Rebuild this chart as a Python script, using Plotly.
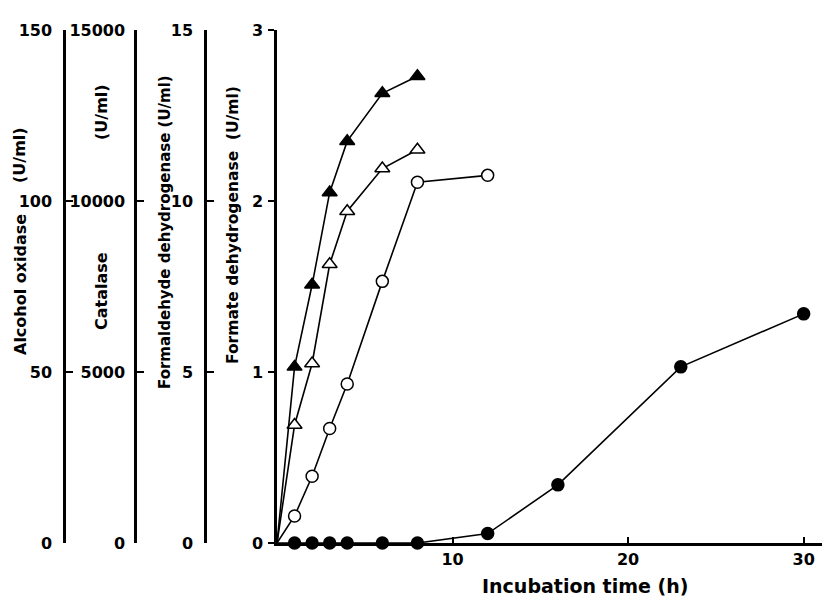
import plotly.graph_objects as go

# page body adds an 8 px offset, so the figure is sized to fill the rest of the window
OFF = 8
W, H = 830 - OFF, 599 - OFF

# Data (incubation time in h)
t_ao = [0, 1, 2, 3, 4, 6, 8]
alcohol_oxidase = [0, 51.5, 75.5, 102.5, 117.5, 131.5, 136.5]          # U/ml (filled triangles)

t_cat = [0, 1, 2, 3, 4, 6, 8]
catalase = [0, 3450, 5250, 8150, 9700, 10950, 11500]                     # U/ml (open triangles)

t_fald = [0, 1, 2, 3, 4, 6, 8, 12]
formaldehyde_dh = [0, 0.79, 1.95, 3.35, 4.65, 7.65, 10.55, 10.75]       # U/ml (open circles)

t_fdh = [0, 1, 2, 3, 4, 6, 8, 12, 16, 23, 30]
formate_dh = [0, 0, 0, 0, 0, 0, 0, 0.055, 0.34, 1.03, 1.34]              # U/ml (filled circles)

x_ticks = [10, 20, 30]
ao_ticks = [0, 50, 100, 150]
cat_ticks = [0, 5000, 10000, 15000]
fald_ticks = [0, 5, 10, 15]
fdh_ticks = [0, 1, 2, 3]

FONT = "DejaVu Sans"
tickfont = dict(family=FONT, size=16, color="black", weight="bold")

def px_x(p):
    return (p - OFF) / W

def px_y(p):
    return 1 - (p - OFF) / H

y_dom = [px_y(543), px_y(30)]

fig = go.Figure()

def msizes(n, s):
    return [0] + [s] * (n - 1)

fig.add_trace(go.Scatter(x=t_ao, y=alcohol_oxidase, yaxis="y4", mode="lines+markers",
                         line=dict(color="black", width=1.6),
                         marker=dict(symbol="triangle-up", size=msizes(len(t_ao), 13), color="#000000",
                                     opacity=1, line=dict(color="#000000", width=1.5)),
                         cliponaxis=False, name="Alcohol oxidase"))
fig.add_trace(go.Scatter(x=t_cat, y=catalase, yaxis="y3", mode="lines+markers",
                         line=dict(color="black", width=1.6),
                         marker=dict(symbol="triangle-up", size=msizes(len(t_cat), 13), color="white",
                                     opacity=1, line=dict(color="black", width=1.5)),
                         cliponaxis=False, name="Catalase"))
fig.add_trace(go.Scatter(x=t_fald, y=formaldehyde_dh, yaxis="y2", mode="lines+markers",
                         line=dict(color="black", width=1.6),
                         marker=dict(symbol="circle", size=msizes(len(t_fald), 12), color="white",
                                     opacity=1, line=dict(color="black", width=1.5)),
                         cliponaxis=False, name="Formaldehyde dehydrogenase"))
fig.add_trace(go.Scatter(x=t_fdh, y=formate_dh, yaxis="y", mode="lines+markers",
                         line=dict(color="black", width=1.6),
                         marker=dict(symbol="circle", size=msizes(len(t_fdh), 12), color="#000000",
                                     opacity=1, line=dict(color="#000000", width=1.5)),
                         cliponaxis=False, name="Formate dehydrogenase"))

axis_common = dict(showgrid=False, zeroline=False, showline=True, linecolor="black",
                   linewidth=2.5, tickcolor="black", tickwidth=2, tickfont=tickfont,
                   automargin=False)

fig.update_layout(
    width=W, height=H,
    margin=dict(l=0, r=0, t=0, b=0, autoexpand=False),
    paper_bgcolor="white", plot_bgcolor="white",
    showlegend=False,
    xaxis=dict(domain=[px_x(277), 1.0], range=[0, 31.5], tickvals=x_ticks,
               ticks="inside", ticklen=6, anchor="y", **axis_common),
    yaxis=dict(domain=y_dom, range=[0, 3], tickvals=fdh_ticks, ticks="outside", ticklen=6,
               anchor="x", ticklabelstandoff=2, **axis_common),
    yaxis2=dict(range=[0, 15], tickvals=fald_ticks, ticktext=[str(v) for v in fald_ticks],
                ticks="inside", ticklen=7, ticklabelstandoff=8,
                overlaying="y", anchor="free", position=px_x(205), **axis_common),
    yaxis3=dict(range=[0, 15000], tickvals=cat_ticks, ticktext=[str(v) for v in cat_ticks],
                ticks="inside", ticklen=7, ticklabelstandoff=6,
                overlaying="y", anchor="free", position=px_x(135), **axis_common),
    yaxis4=dict(range=[0, 150], tickvals=ao_ticks, ticktext=[str(v) for v in ao_ticks],
                ticks="inside", ticklen=7, ticklabelstandoff=8,
                overlaying="y", anchor="free", position=px_x(64), **axis_common),
)

def vtitle(text, xp, yp, size=16):
    fig.add_annotation(text=text, x=px_x(xp), y=px_y(yp), xref="paper", yref="paper",
                       textangle=-90, showarrow=False,
                       font=dict(family=FONT, size=size, color="black", weight="bold"),
                       xanchor="center", yanchor="middle")

vtitle("Alcohol oxidase", 20, 285)
vtitle("(U/ml)", 20, 155)
vtitle("Catalase", 101, 291)
vtitle("(U/ml)", 101, 112)
vtitle("Formaldehyde dehydrogenase (U/ml)", 165, 232, 15)
vtitle("Formate dehydrogenase  (U/ml)", 233, 225, 15.5)

fig.add_annotation(text="Incubation time (h)", x=px_x(585), y=px_y(586), xref="paper", yref="paper",
                   showarrow=False, font=dict(family=FONT, size=19, color="black", weight="bold"),
                   xanchor="center", yanchor="middle")

fig.write_html("out.html")
